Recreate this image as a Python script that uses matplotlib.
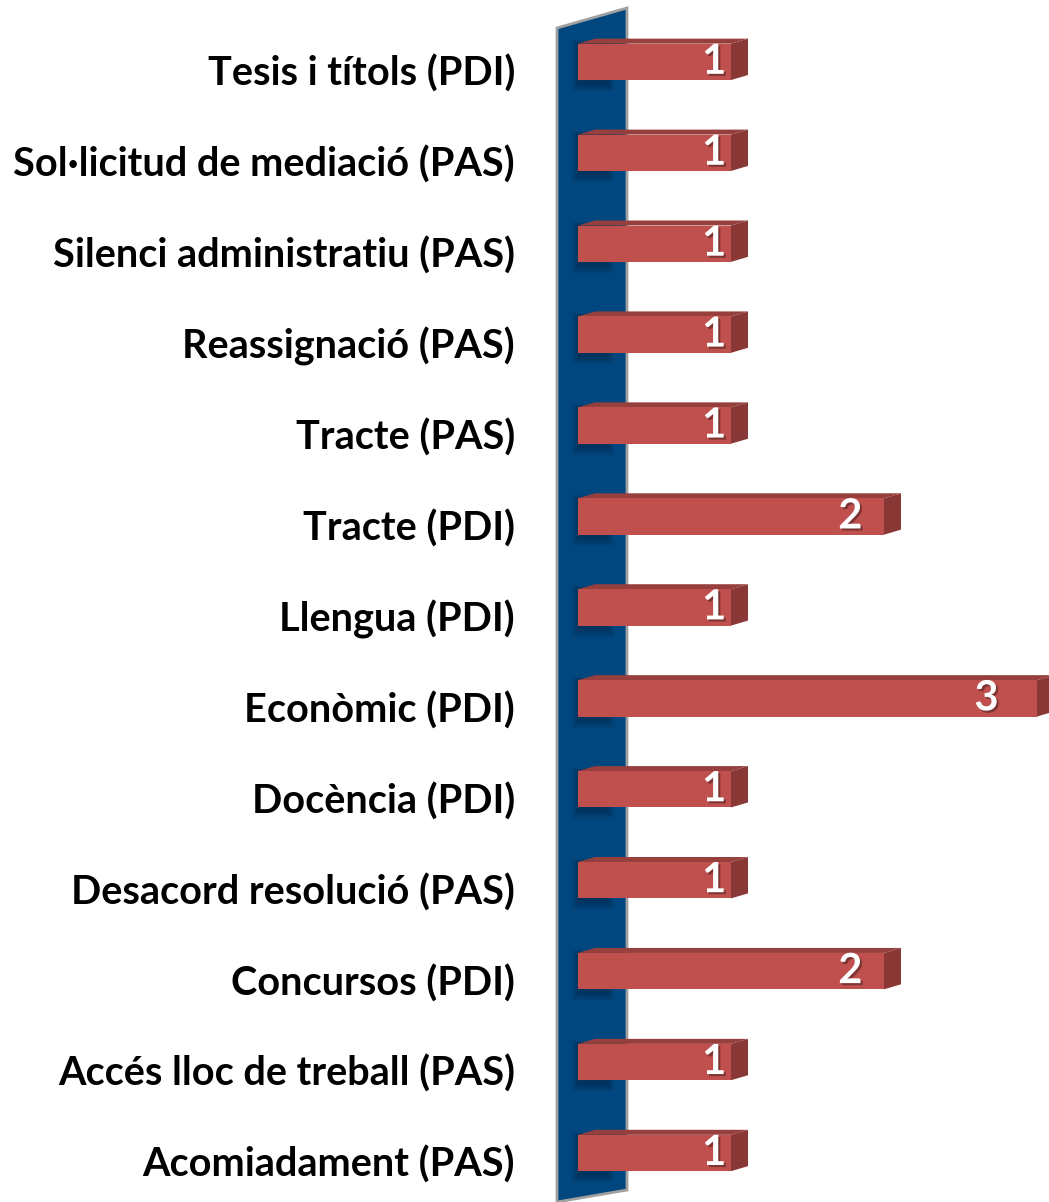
import matplotlib
matplotlib.use("Agg")
import matplotlib.pyplot as plt
import matplotlib.patheffects as pe
from matplotlib.patches import Polygon

# categories from top to bottom, as in the chart
categories = [
    "Tesis i títols (PDI)",
    "Sol·licitud de mediació (PAS)",
    "Silenci administratiu (PAS)",
    "Reassignació (PAS)",
    "Tracte (PAS)",
    "Tracte (PDI)",
    "Llengua (PDI)",
    "Econòmic (PDI)",
    "Docència (PDI)",
    "Desacord resolució (PAS)",
    "Concursos (PDI)",
    "Accés lloc de treball (PAS)",
    "Acomiadament (PAS)",
]
values = [1, 1, 1, 1, 1, 2, 1, 3, 1, 1, 2, 1, 1]

# plot bottom-up
cats = categories[::-1]
vals = values[::-1]
ypos = list(range(len(cats)))

front = "#c0504d"
top_c = "#963f3d"
side_c = "#8a3836"
wall_c = "#00477f"

fig = plt.figure(figsize=(10.49, 12.02), dpi=100)
ax = fig.add_axes([578 / 1049, 0, 471 / 1049, 1])
ax.set_xlim(0, 471 / 153)
ax.set_ylim(-0.539, 12.68)
ax.axis("off")

# 3d depth offsets in data units
dx = 17 / 153
dy = 5 / 90.9
y0, y1 = ax.get_ylim()

# back wall
wall = Polygon([(-21 / 153, y1 - 28 / 90.9), (49 / 153, y1 - 8 / 90.9),
                (49 / 153, y0 + 12 / 90.9), (-21 / 153, y0)],
               closed=True, facecolor=wall_c, edgecolor="#a0a0a0", lw=2,
               zorder=1, clip_on=False)
ax.add_patch(wall)

bars = ax.barh(ypos, vals, height=0.4, color=front, zorder=4)

for b in bars:
    x, y, w, h = b.get_x(), b.get_y(), b.get_width(), b.get_height()
    # soft shadow on the wall near the bar root
    for k in range(4):
        e = 0.012 * k
        ax.add_patch(Polygon([(x - e, y - 0.05 - e * 2), (x + 0.2 + e, y - 0.05 - e * 2),
                              (x + 0.2 + e, y + h + e), (x - e, y + h + e)],
                             closed=True, facecolor="black", alpha=0.07,
                             edgecolor="none", zorder=2, clip_on=False))
    top = Polygon([(x, y + h), (x + w, y + h), (x + w + dx, y + h + dy), (x + dx, y + h + dy)],
                  closed=True, facecolor=top_c, edgecolor="none", zorder=3)
    side = Polygon([(x + w, y), (x + w + dx, y + dy), (x + w + dx, y + h + dy), (x + w, y + h)],
                   closed=True, facecolor=side_c, edgecolor="none", zorder=3)
    ax.add_patch(top)
    ax.add_patch(side)

shadow = [pe.withSimplePatchShadow(offset=(1.5, -1.5), shadow_rgbFace="black", alpha=0.35)]
for y, v in zip(ypos, vals):
    ax.text(v * 0.89, y, str(v), ha="center", va="center", color="white",
            fontsize=30, fontweight="bold", family="Lato", zorder=6,
            path_effects=shadow)

for y, c in zip(ypos, cats):
    ax.annotate(c, xy=(0, y), xycoords=("axes fraction", "data"),
                xytext=(-63, -12), textcoords="offset pixels",
                ha="right", va="center", fontsize=28.5, fontweight="bold",
                family="Lato", color="black", annotation_clip=False)

fig.savefig("out.png", dpi=100)
